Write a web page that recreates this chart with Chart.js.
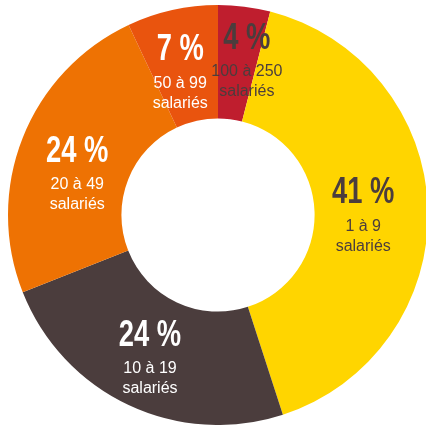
<!DOCTYPE html>
<html>
<head>
<meta charset="utf-8">
<script src="https://cdn.jsdelivr.net/npm/chart.js@4.4.0/dist/chart.umd.min.js"></script>
<style>
  html, body { margin: 0; padding: 0; background: #fff; overflow: hidden; width: 426px; height: 425px; }
  #wrap { position: absolute; left: 8px; top: 5px; width: 420px; height: 420px; }
</style>
</head>
<body>
<div id="wrap"><canvas id="pieChart"></canvas></div>
<script>
// data, clockwise from the top
const categories = ["100 à 250 salariés", "1 à 9 salariés", "10 à 19 salariés", "20 à 49 salariés", "50 à 99 salariés"];
const shares = [4, 41, 24, 24, 7];
const sizeLines = [["100 à 250", "salariés"], ["1 à 9", "salariés"], ["10 à 19", "salariés"], ["20 à 49", "salariés"], ["50 à 99", "salariés"]];
const sliceColors = ["#BF1E2E", "#FFD500", "#4B3D3D", "#EE7203", "#E9540E"];
const textColors = ["#4B3D3D", "#4B3D3D", "#ffffff", "#ffffff", "#ffffff"];
// small hand nudges for the label blocks (px)
const labelNudge = [[10, -5], [-5, 5], [-4, 7], [-1, 14], [-5, 4]];

/* labels inside each slice */
const sliceLabels = {
    id: "sliceLabels",
    afterDatasetsDraw(chart) {
        const ctx = chart.ctx;
        const arcs = chart.getDatasetMeta(0).data;
        arcs.forEach((arc, i) => {
            const p = arc.getProps(["x", "y", "startAngle", "endAngle", "innerRadius", "outerRadius"], true);
            const mid = (p.startAngle + p.endAngle) / 2;
            const r = (p.innerRadius + p.outerRadius) / 2 - 3;
            let x = p.x + Math.cos(mid) * r + labelNudge[i][0];
            let y = p.y + Math.sin(mid) * r + labelNudge[i][1];

            ctx.save();
            ctx.fillStyle = textColors[i];
            ctx.textAlign = "center";
            ctx.textBaseline = "middle";
            // condensed bold percentage
            ctx.save();
            ctx.translate(x, y - 22);
            ctx.scale(0.76, 1);
            ctx.font = "bold 36px 'Liberation Sans', Arial, sans-serif";
            ctx.fillText(shares[i] + " %", 0, 0);
            ctx.restore();

            ctx.font = "16px 'Liberation Sans', Arial, sans-serif";
            ctx.fillText(sizeLines[i][0], x, y + 11);
            ctx.fillText(sizeLines[i][1], x, y + 31);
            ctx.restore();
        });
    }
};

let ctx = document.getElementById("pieChart").getContext("2d");
let chart = new Chart(ctx, {
    type: "doughnut",
    data: {
        labels: categories,
        datasets: [{
            data: shares,
            backgroundColor: sliceColors,
            borderWidth: 0,
        }]
    },
    options: {
        responsive: true,
        maintainAspectRatio: false,
        animation: false,
        cutout: "46%",
        layout: { padding: 0 },
        plugins: {
            legend: { display: false },
            tooltip: { enabled: false },
        }
    },
    plugins: [sliceLabels]
});
</script>
</body>
</html>
